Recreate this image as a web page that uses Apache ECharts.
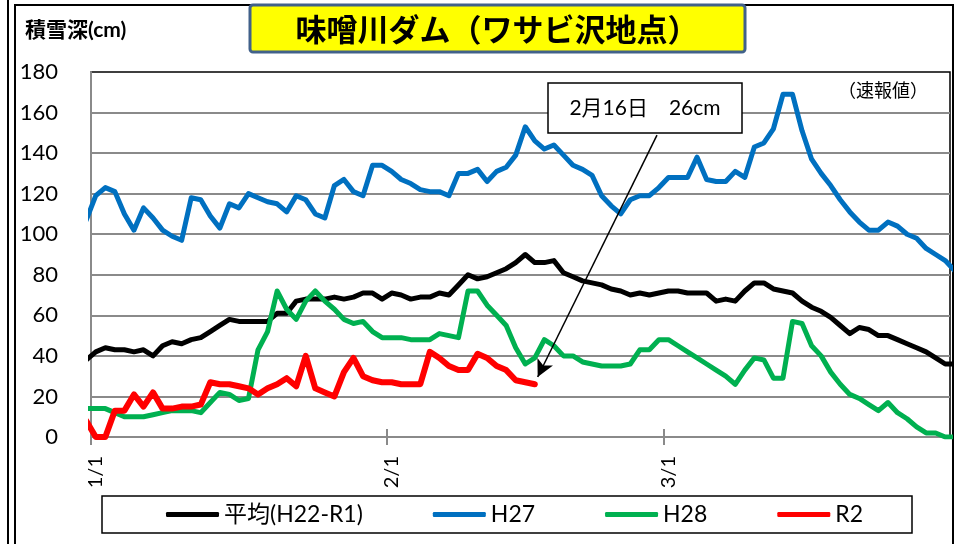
<!DOCTYPE html>
<html>
<head>
<meta charset="utf-8">
<script src="https://cdn.jsdelivr.net/npm/echarts@6/dist/echarts.min.js"></script>
<style>
html, body { margin: 0; padding: 0; background: #fff; }
#chart { width: 960px; height: 544px; }
</style>
</head>
<body>
<div id="chart"></div>
<script>
// daily snow depth, 12/31 .. 3/31 (first value sits half a day left of the 1/1 tick)
var avg = [38, 42, 44, 43, 43, 42, 43, 40, 45, 47,
  46, 48, 49, 52, 55, 58, 57, 57, 57, 57,
  61, 61, 67, 68, 68, 68, 69, 68, 69, 71,
  71, 68, 71, 70, 68, 69, 69, 71, 70, 75,
  80, 78, 79, 81, 83, 86, 90, 86, 86, 87,
  81, 79, 77, 76, 75, 73, 72, 70, 71, 70,
  71, 72, 72, 71, 71, 71, 67, 68, 67, 72,
  76, 76, 73, 72, 71, 67, 64, 62, 59, 55,
  51, 54, 53, 50, 50, 48, 46, 44, 42, 39,
  36, 36]
var h27 = [107, 119, 123, 121, 110, 102, 113, 108, 102, 99,
  97, 118, 117, 109, 103, 115, 113, 120, 118, 116,
  115, 111, 119, 117, 110, 108, 124, 127, 121, 119,
  134, 134, 131, 127, 125, 122, 121, 121, 119, 130,
  130, 132, 126, 131, 133, 139, 153, 146, 142, 144,
  139, 134, 132, 129, 119, 114, 110, 117, 119, 119,
  123, 128, 128, 128, 138, 127, 126, 126, 131, 128,
  143, 145, 152, 169, 169, 151, 137, 130, 124, 117,
  111, 106, 102, 102, 106, 104, 100, 98, 93, 90,
  87, 82]
var h28 = [14, 14, 14, 12, 10, 10, 10, 11, 12, 13,
  13, 13, 12, 17, 22, 21, 18, 19, 43, 52,
  72, 63, 58, 67, 72, 67, 63, 58, 56, 57,
  52, 49, 49, 49, 48, 48, 48, 51, 50, 49,
  72, 72, 65, 60, 55, 44, 36, 39, 48, 45,
  40, 40, 37, 36, 35, 35, 35, 36, 43, 43,
  48, 48, 45, 42, 39, 36, 33, 30, 26, 33,
  39, 38, 29, 29, 57, 56, 45, 40, 32, 26,
  21, 19, 16, 13, 17, 12, 9, 5, 2, 2,
  0, 0]
var r2 = [8, 0, 0, 13, 13, 21, 15, 22, 14, 14,
  15, 15, 16, 27, 26, 26, 25, 24, 21, 24,
  26, 29, 25, 40, 24, 22, 20, 32, 39, 30,
  28, 27, 27, 26, 26, 26, 42, 39, 35, 33,
  33, 41, 39, 35, 33, 28, 27, 26]

var tickDays = [0, 31, 60]
var labelDays = [0.5, 31.5, 60.5]
var tickLabels = ['1/1', '2/1', '3/1']
var names = ['平均(H22-R1)', 'H27', 'H28', 'R2']
var colors = ['#000000', '#0070C0', '#00B050', '#FF0000']

var dayStart = -0.5
function pts(arr) {
  return arr.map(function (v, i) { return [i + dayStart, v] })
}

var font = "Lato, 'Noto Sans CJK JP', sans-serif"
var gray = '#8a8a8a'

function lineSeries(name, data, color, width) {
  return {
    name: name,
    type: 'line',
    data: pts(data),
    color: color,
    showSymbol: false,
    symbol: 'none',
    clip: true,
    lineStyle: { width: width, color: color, cap: 'round', join: 'round' },
    emphasis: { disabled: true }
  }
}

var seriesList = [
  lineSeries(names[0], avg, colors[0], 5),
  lineSeries(names[1], h27, colors[1], 5),
  lineSeries(names[2], h28, colors[2], 5),
  lineSeries(names[3], r2, colors[3], 6)
]
// arrow from the note box down to the last R2 value
seriesList[3].markLine = {
  silent: true,
  symbol: ['none', 'arrow'],
  symbolSize: [13, 17],
  label: { show: false },
  lineStyle: { color: '#000', width: 1.5, type: 'solid' },
  data: [[{ coord: [59.3, 148.9] }, { coord: [46.8, 29.6] }]]
}

var option = {
  animation: false,
  backgroundColor: '#ffffff',
  textStyle: { fontFamily: font },
  grid: {
    left: 91, top: 72, right: 10, bottom: 107,
    show: true, borderColor: '#000', borderWidth: 1.5,
    outerBoundsMode: 'none'
  },
  xAxis: [{
    type: 'value', min: 0, max: 90,
    axisLine: { lineStyle: { color: gray, width: 2 } },
    axisTick: { customValues: tickDays, length: 8, lineStyle: { color: gray, width: 2 } },
    axisLabel: {
      customValues: labelDays, rotate: 90, margin: 19,
      fontSize: 20, color: '#000', fontFamily: font,
      formatter: function (v) { return tickLabels[labelDays.indexOf(v)] }
    },
    splitLine: { show: false }
  }, {
    type: 'value', min: 0, max: 90, position: 'bottom',
    axisLine: { show: false },
    axisTick: { customValues: tickDays, inside: true, length: 8, lineStyle: { color: gray, width: 2 } },
    axisLabel: { show: false },
    splitLine: { show: false }
  }],
  yAxis: {
    type: 'value', min: 0, max: 180, interval: 20,
    axisLine: { show: true, lineStyle: { color: gray, width: 2 } },
    axisTick: { show: false },
    axisLabel: { fontSize: 22, color: '#000', margin: 33, fontFamily: font },
    splitLine: { lineStyle: { color: gray, width: 2 }, showMaxLine: false }
  },
  legend: {
    data: names,
    left: 166, top: 503,
    padding: 0,
    itemWidth: 53, itemHeight: 5, itemGap: 70,
    icon: 'roundRect',
    textStyle: { fontSize: 23, color: '#000', fontFamily: font }
  },
  series: seriesList,
  graphic: [
    { type: 'line', silent: true, shape: { x1: 8, y1: 0, x2: 8, y2: 544 }, style: { stroke: '#000', lineWidth: 2 } },
    { type: 'rect', silent: true, shape: { x: 15, y: 5, width: 938, height: 600 }, style: { fill: null, stroke: '#000', lineWidth: 2 } },
    { type: 'rect', silent: true, z: 10, shape: { x: 250, y: 5, width: 495, height: 47, r: 3 }, style: { fill: '#FFFF00', stroke: '#41618A', lineWidth: 3 } },
    { type: 'text', silent: true, z: 11, x: 497, y: 29, style: { text: '味噌川ダム（ワサビ沢地点）', fontSize: 31, fontWeight: 'bold', fontFamily: "'Noto Sans CJK JP'", fill: '#000', align: 'center', verticalAlign: 'middle' } },
    { type: 'text', silent: true, z: 11, x: 25, y: 30, style: { text: '積雪深(cm)', fontSize: 21, fontWeight: 'bold', fontFamily: font, fill: '#000', align: 'left', verticalAlign: 'middle' } },
    { type: 'text', silent: true, z: 11, x: 838, y: 91, style: { text: '（速報値）', fontSize: 18, fontFamily: font, fill: '#000', align: 'left', verticalAlign: 'middle' } },
    { type: 'rect', silent: true, z: 10, shape: { x: 548, y: 83, width: 194, height: 50 }, style: { fill: '#fff', stroke: '#000', lineWidth: 1.5 } },
    { type: 'text', silent: true, z: 11, x: 645, y: 108, style: { text: '2月16日　26cm', fontSize: 21, fontFamily: font, fill: '#000', align: 'center', verticalAlign: 'middle' } },
    { type: 'rect', silent: true, z: 0, shape: { x: 102, y: 496, width: 810, height: 37 }, style: { fill: null, stroke: '#000', lineWidth: 1.5 } }
  ]
}

echarts.init(document.getElementById('chart')).setOption(option)
</script>
</body>
</html>
